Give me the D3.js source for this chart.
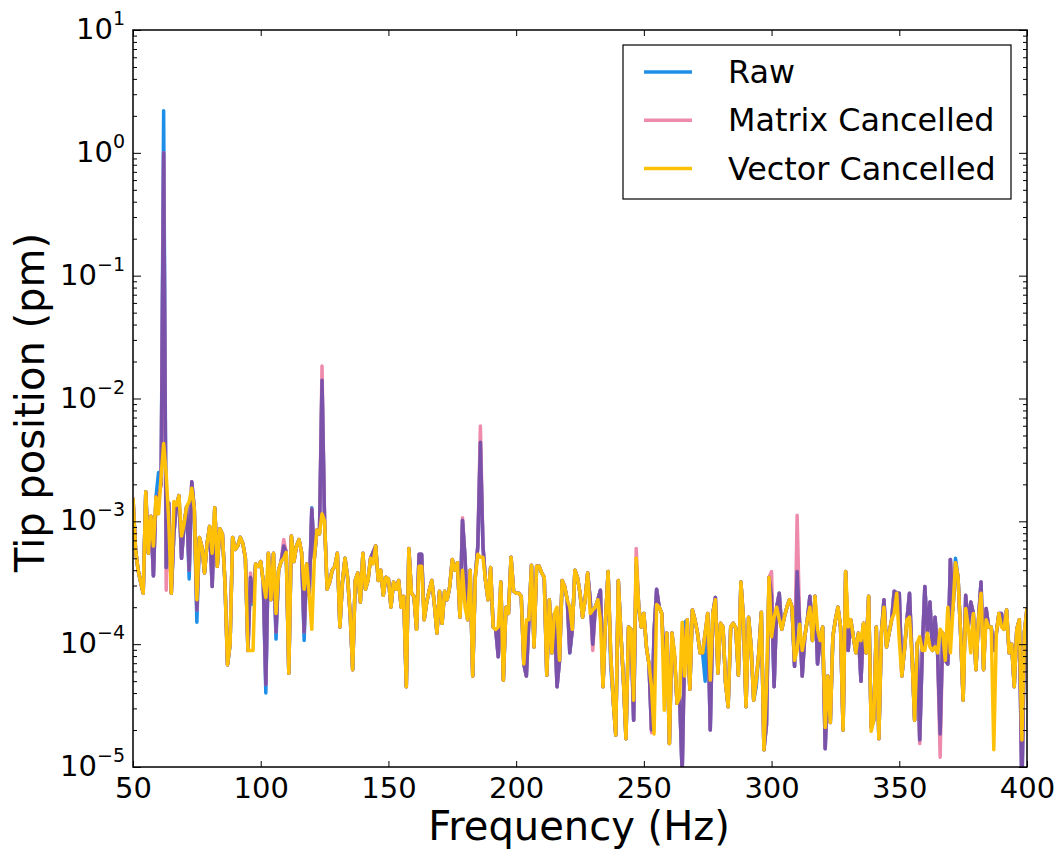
<!DOCTYPE html>
<html><head><meta charset="utf-8">
<script src="https://cdn.jsdelivr.net/npm/d3@7"></script>
<style>
body{margin:0;background:#fff}
svg{display:block;font-family:"DejaVu Sans",sans-serif}
</style>
</head><body>
<svg id="chart" width="1060" height="851"></svg>
<script>
// Frequency axis: one sample per Hz from 50 Hz to 400 Hz
const startHz = 50;
const stepHz = 1;

// Vector Cancelled (pm), 50..400 Hz
const vectorCancelled = [
1.55e-3,5.9e-4,4.0e-4,3.2e-4,2.6e-4,1.74e-3,5.5e-4,1.1e-3,6.3e-4,1.58e-3,
1.15e-3,2.29e-3,4.3e-3,2.4e-3,1.0e-3,2.6e-4,1.45e-3,1.35e-3,1.62e-3,7.6e-4,
9.5e-4,1.32e-3,1.45e-3,1.86e-3,1.26e-3,2.3e-4,7.4e-4,6.2e-4,3.8e-4,6.6e-4,
9.1e-4,5.5e-4,1.29e-3,4.3e-4,8.7e-4,7.9e-4,3.2e-4,6.8e-5,1.0e-4,7.4e-4,
5.9e-4,6.3e-4,7.4e-4,6.6e-4,5.0e-4,8.9e-5,8.9e-5,8.9e-5,4.5e-4,4.3e-4,
4.7e-4,3.2e-4,2.4e-4,5.5e-4,2.3e-4,5.5e-4,1.78e-4,4.0e-4,4.7e-4,5.0e-4,
5.6e-4,5.8e-5,7.6e-4,4.7e-4,6.3e-4,7.1e-4,5.6e-4,2.8e-4,4.5e-4,2.5e-4,
1.32e-4,5.0e-4,8.5e-4,7.9e-4,1.15e-3,1.0e-3,2.8e-4,3.2e-4,4.0e-4,4.3e-4,
5.5e-4,1.38e-4,3.2e-4,5.0e-4,3.5e-4,1.78e-4,6.2e-5,3.3e-4,3.8e-4,2.2e-4,
5.5e-4,2.8e-4,3.3e-4,5.0e-4,4.5e-4,6.3e-4,3.3e-4,4.0e-4,2.5e-4,3.5e-4,
3.4e-4,2.0e-4,3.2e-4,2.8e-4,3.3e-4,2.0e-4,2.45e-4,4.5e-5,6.0e-4,2.6e-4,
2.45e-4,1.32e-4,4.3e-4,4.3e-4,1.58e-4,2.2e-4,2.75e-4,3.3e-4,2.1e-4,1.23e-4,
2.7e-4,1.48e-4,2.7e-4,2.3e-4,2.95e-4,4.9e-4,4.0e-4,4.6e-4,1.66e-4,4.0e-4,
2.0e-4,1.58e-4,4.0e-4,5.5e-5,3.5e-4,5.4e-4,5.1e-4,5.1e-4,3.3e-4,2.3e-4,
4.2e-4,1.38e-4,1.32e-4,1.38e-4,3.2e-4,5.1e-5,2.0e-4,1.78e-4,5.1e-4,2.7e-4,
2.6e-4,2.6e-4,2.45e-4,6.9e-5,1.58e-4,1.58e-4,4.4e-4,9.5e-5,4.3e-4,4.3e-4,
3.8e-4,3.5e-4,5.6e-5,2.3e-4,8.5e-5,1.78e-4,2.0e-4,7.4e-5,3.3e-4,2.95e-4,
2.3e-4,2.0e-4,1.32e-4,4.0e-4,3.5e-4,2.6e-4,1.66e-4,2.3e-4,3.8e-4,1.78e-4,
1.9e-4,2.0e-4,2.3e-4,1.58e-4,4.5e-5,1.58e-4,3.9e-4,8.5e-5,3.5e-5,1.82e-5,
3.3e-4,1.23e-4,5.1e-5,1.7e-5,1.38e-4,1.32e-4,3.5e-5,5.0e-4,2.0e-4,1.38e-4,
1.78e-4,9.5e-5,6.9e-5,4.5e-5,1.86e-5,2.1e-4,2.0e-4,1.78e-4,2.9e-5,1.23e-4,
1.55e-5,1.23e-4,8.5e-5,3.3e-5,3.7e-5,1.51e-4,5.5e-5,1.58e-4,4.3e-5,1.9e-4,
1.58e-4,1.23e-4,8.5e-5,8.5e-5,1.23e-4,1.78e-4,5.1e-5,1.78e-4,2.3e-4,5.8e-5,
1.48e-4,1.38e-4,4.8e-5,3.1e-5,1.38e-4,1.48e-4,1.35e-4,5.6e-5,3.2e-4,1.58e-4,
3.1e-5,1.66e-4,9.5e-5,3.5e-5,5.1e-5,8.5e-5,1.82e-4,1.38e-5,4.5e-5,3.5e-4,
1.15e-4,1.66e-4,2.0e-4,1.58e-4,1.32e-4,1.66e-4,2.0e-4,2.3e-4,2.0e-4,7.4e-5,
8.9e-5,1.45e-4,8.9e-5,1.15e-4,1.58e-4,2.0e-4,1.07e-4,2.45e-4,1.32e-4,1.07e-4,
1.38e-4,2.1e-5,5.5e-5,2.3e-5,1.15e-4,1.58e-4,2.0e-4,1.38e-4,2.0e-5,3.9e-4,
1.38e-4,1.58e-4,1.15e-4,8.5e-5,1.23e-4,1.07e-4,1.48e-4,8.5e-5,2.45e-4,1.95e-5,
2.4e-5,1.38e-4,1.7e-5,1.23e-4,2.0e-4,9.5e-5,1.23e-4,1.58e-4,1.78e-4,2.6e-4,
1.07e-4,5.5e-5,8.9e-5,1.58e-4,1.66e-4,7.9e-5,2.4e-5,1.02e-4,1.15e-4,8.9e-5,
8.9e-5,1.23e-4,9.5e-5,8.9e-5,9.5e-5,8.5e-5,1.32e-4,1.23e-4,7.4e-5,2.0e-4,
8.5e-5,1.9e-4,4.6e-4,3.5e-4,1.23e-4,3.5e-5,1.95e-4,1.38e-4,8.5e-5,1.78e-4,
6.2e-5,1.58e-4,2.6e-4,6.2e-5,1.58e-4,1.38e-4,1.38e-4,1.38e-5,1.23e-4,1.78e-4,
1.38e-4,1.32e-4,1.9e-4,8.5e-5,1.0e-4,4.5e-5,1.32e-4,1.58e-4,1.66e-5,1.26e-4,
1.95e-4
];

// Trace where Raw and Matrix Cancelled coincide (drawn purple), 50..400 Hz
const rawMatrixShared = [
1.55e-3,5.9e-4,4.0e-4,3.2e-4,2.6e-4,1.74e-3,5.5e-4,1.1e-3,3.6e-4,1.58e-3,
1.58e-3,2.0e-3,1.0,4.2e-4,1.41e-3,2.6e-4,7.9e-4,1.35e-3,1.62e-3,5.0e-4,
9.5e-4,1.32e-3,4.0e-4,2.1e-3,1.26e-3,1.9e-4,7.4e-4,6.2e-4,3.8e-4,6.6e-4,
9.1e-4,2.95e-4,1.29e-3,4.3e-4,8.7e-4,7.9e-4,3.2e-4,6.8e-5,1.0e-4,7.4e-4,
5.9e-4,6.3e-4,7.4e-4,6.6e-4,5.0e-4,8.9e-5,3.5e-4,2.2e-4,4.5e-4,4.3e-4,
4.7e-4,3.2e-4,4.7e-5,5.5e-4,2.3e-4,5.5e-4,1.26e-4,4.0e-4,4.7e-4,6.3e-4,
5.6e-4,5.8e-5,7.6e-4,4.7e-4,6.3e-4,7.1e-4,5.6e-4,1.26e-4,4.5e-4,2.5e-4,
1.26e-3,5.0e-4,8.5e-4,7.9e-4,1.41e-2,1.0e-3,2.8e-4,3.2e-4,4.0e-4,4.3e-4,
5.5e-4,1.38e-4,3.2e-4,5.0e-4,3.5e-4,1.78e-4,6.2e-5,3.3e-4,3.8e-4,2.2e-4,
5.5e-4,2.8e-4,3.3e-4,5.0e-4,5.6e-4,6.3e-4,3.3e-4,4.0e-4,2.5e-4,3.5e-4,
3.4e-4,2.0e-4,3.2e-4,2.8e-4,3.3e-4,2.0e-4,2.45e-4,4.5e-5,6.0e-4,2.6e-4,
2.45e-4,1.32e-4,5.4e-4,5.4e-4,1.58e-4,2.2e-4,2.75e-4,3.3e-4,2.1e-4,1.23e-4,
2.7e-4,1.48e-4,2.7e-4,2.3e-4,2.95e-4,4.9e-4,4.0e-4,4.6e-4,1.66e-4,1.02e-3,
5.0e-4,1.58e-4,4.0e-4,5.5e-5,3.5e-4,6.3e-4,4.4e-3,6.3e-4,3.3e-4,2.3e-4,
4.2e-4,1.38e-4,1.32e-4,7.9e-5,3.2e-4,5.1e-5,2.0e-4,1.78e-4,5.1e-4,2.7e-4,
2.6e-4,2.6e-4,2.45e-4,6.9e-5,5.5e-5,1.58e-4,4.4e-4,9.5e-5,4.3e-4,4.3e-4,
3.8e-4,3.5e-4,5.6e-5,2.3e-4,8.5e-5,1.78e-4,4.5e-5,7.4e-5,3.3e-4,2.95e-4,
2.3e-4,8.5e-5,1.32e-4,4.0e-4,3.5e-4,2.6e-4,1.66e-4,2.3e-4,3.8e-4,2.3e-4,
1.0e-4,2.0e-4,2.3e-4,2.75e-4,4.5e-5,1.58e-4,3.9e-4,8.5e-5,3.5e-5,1.82e-5,
3.3e-4,1.23e-4,5.1e-5,1.7e-5,1.38e-4,1.32e-4,2.4e-5,4.5e-4,2.0e-4,1.38e-4,
1.78e-4,9.5e-5,6.9e-5,2.0e-5,1.26e-4,2.8e-4,2.0e-4,1.78e-4,6.3e-5,1.23e-4,
1.55e-5,1.23e-4,7.9e-5,3.3e-5,3.7e-5,8.9e-6,1.0e-4,1.58e-4,4.3e-5,1.9e-4,
1.58e-4,1.23e-4,8.5e-5,8.5e-5,1.23e-4,1.78e-4,2.0e-5,1.78e-4,2.4e-4,5.8e-5,
1.48e-4,1.38e-4,4.8e-5,3.1e-5,1.38e-4,1.48e-4,1.35e-4,5.6e-5,3.2e-4,1.58e-4,
3.1e-5,1.66e-4,9.5e-5,3.5e-5,5.1e-5,8.5e-5,1.82e-4,1.38e-5,2.2e-5,3.5e-4,
2.5e-4,4.5e-5,2.0e-4,2.6e-4,1.32e-4,1.66e-4,2.0e-4,2.3e-4,2.0e-4,6.6e-5,
3.9e-4,1.45e-4,5.5e-5,1.15e-4,1.58e-4,2.45e-4,1.07e-4,2.45e-4,6.9e-5,1.07e-4,
1.38e-4,1.41e-5,5.5e-5,2.3e-5,1.15e-4,1.58e-4,2.0e-4,1.38e-4,2.0e-5,3.9e-4,
8.9e-5,1.58e-4,1.15e-4,8.5e-5,1.23e-4,5.0e-5,1.48e-4,8.5e-5,2.45e-4,2.1e-5,
2.4e-5,1.38e-4,1.7e-5,1.23e-4,2.3e-4,9.5e-5,1.23e-4,1.58e-4,2.7e-4,2.6e-4,
2.6e-4,5.5e-5,8.9e-5,1.58e-4,2.6e-4,7.9e-5,2.4e-5,1.02e-4,1.66e-5,8.9e-5,
2.95e-4,1.23e-4,2.2e-4,8.9e-5,1.66e-4,8.5e-5,1.86e-5,1.23e-4,7.4e-5,6.9e-5,
4.9e-4,1.9e-4,4.6e-4,3.5e-4,1.23e-4,3.5e-5,2.5e-4,1.38e-4,2.2e-4,1.78e-4,
6.2e-5,1.58e-4,3.2e-4,6.2e-5,1.95e-4,1.38e-4,1.38e-4,8.9e-5,1.23e-4,1.78e-4,
1.78e-4,1.32e-4,1.9e-4,8.5e-5,1.0e-4,4.5e-5,1.32e-4,1.58e-4,6.3e-6,1.26e-4,
1.95e-4
];

// Points where Raw departs from the shared trace: [Hz, pm]
const rawOnly = [[60,2.5e-3],[62,2.2],[72,3.4e-4],[75,1.51e-4],[97,2.1e-4],[102,4.0e-5],
  [106,1.1e-4],[117,1.07e-4],[120,1.29e-3],[237,6.8e-5],[266,1.51e-4],[274,5.0e-5],
  [294,4.5e-5],[372,5.0e-4]];
// Points where Matrix Cancelled departs from the shared trace: [Hz, pm]
const matrixOnly = [[63,2.75e-4],[96,3.8e-4],[109,7.1e-4],[124,1.84e-2],[179,1.07e-3],
  [186,5.97e-3],[221,8.9e-5],[230,8.9e-5],[247,6.0e-4],[253,1.9e-5],[300,3.9e-4],
  [310,1.12e-3],[358,1.55e-5],[366,1.2e-5]];

const xTicks = [50,100,150,200,250,300,350,400];
const yExponents = [-5,-4,-3,-2,-1,0,1];
const legendLabels = ["Raw","Matrix Cancelled","Vector Cancelled"];
const legendColors = ["#1e8fe8","#ee8aab","#ffc107"];
const sharedColor = "#7b52aa";

// ---------------------------------------------------------------
const svg = d3.select("#chart");
const M = {left:133, right:1027, top:30, bottom:767};
const x = d3.scaleLinear().domain([50,400]).range([M.left,M.right]);
const y = d3.scaleLog().domain([1e-5,1e1]).range([M.bottom,M.top]);

const freqs = vectorCancelled.map((_,i)=>startHz+i*stepHz);
function withOverrides(base, over){
  const m = new Map(over.map(d=>[d[0],d[1]]));
  return base.map((v,i)=> m.has(freqs[i]) ? m.get(freqs[i]) : v);
}
const raw = withOverrides(rawMatrixShared, rawOnly);
const matrix = withOverrides(rawMatrixShared, matrixOnly);

svg.append("defs").append("clipPath").attr("id","clip")
  .append("rect").attr("x",M.left).attr("y",M.top)
  .attr("width",M.right-M.left).attr("height",M.bottom-M.top);

const line = d3.line().x((d,i)=>x(freqs[i])).y(d=>y(d));
const g = svg.append("g").attr("clip-path","url(#clip)");
const layers = [[raw,legendColors[0]],[matrix,legendColors[1]],[rawMatrixShared,sharedColor],[vectorCancelled,legendColors[2]]];
layers.forEach(([data,col])=>{
  g.append("path").datum(data).attr("d",line).attr("fill","none")
   .attr("stroke",col).attr("stroke-width",3.5).attr("stroke-linejoin","round");
});

// axes (ticks inward on all four sides)
const minorVals = [];
yExponents.slice(0,-1).forEach(e=>{ for(let k=2;k<=9;k++) minorVals.push(k*Math.pow(10,e)); });
const majorVals = yExponents.map(e=>Math.pow(10,e));

function styleAxis(sel){ sel.select(".domain").remove(); sel.selectAll("line").attr("stroke","#000").attr("stroke-width",1); }

svg.append("g").attr("transform",`translate(0,${M.bottom})`)
  .call(d3.axisBottom(x).tickValues(xTicks).tickSize(-6).tickPadding(10).tickFormat(d3.format("d")))
  .call(styleAxis)
  .selectAll("text").attr("font-size",29).attr("fill","#000").attr("font-family","DejaVu Sans, sans-serif");
svg.append("g").attr("transform",`translate(0,${M.top})`)
  .call(d3.axisTop(x).tickValues(xTicks).tickSize(-6).tickFormat(""))
  .call(styleAxis);
svg.append("g").attr("transform",`translate(${M.left},0)`)
  .call(d3.axisLeft(y).tickValues(majorVals).tickSize(-8).tickFormat(""))
  .call(styleAxis);
svg.append("g").attr("transform",`translate(${M.left},0)`)
  .call(d3.axisLeft(y).tickValues(minorVals).tickSize(-4).tickFormat(""))
  .call(styleAxis);
svg.append("g").attr("transform",`translate(${M.right},0)`)
  .call(d3.axisRight(y).tickValues(majorVals).tickSize(-8).tickFormat(""))
  .call(styleAxis);
svg.append("g").attr("transform",`translate(${M.right},0)`)
  .call(d3.axisRight(y).tickValues(minorVals).tickSize(-4).tickFormat(""))
  .call(styleAxis);

// y tick labels 10^n
yExponents.forEach(e=>{
  const t = svg.append("text").attr("x",125).attr("y",y(Math.pow(10,e))+9)
    .attr("text-anchor","end").attr("font-size",29).attr("fill","#000");
  t.append("tspan").text("10");
  t.append("tspan").attr("font-size",19).attr("dy",-14).text(e<0?"\u2212"+(-e):String(e));
});

// frame
svg.append("rect").attr("x",M.left).attr("y",M.top)
  .attr("width",M.right-M.left).attr("height",M.bottom-M.top)
  .attr("fill","none").attr("stroke","#000").attr("stroke-width",1.5);

// axis titles
svg.append("text").attr("x",(M.left+M.right)/2 - 1).attr("y",840).attr("text-anchor","middle")
  .attr("font-size",40).attr("fill","#000").text("Frequency (Hz)");
svg.append("text").attr("transform",`translate(44,${(M.top+M.bottom)/2 + 4}) rotate(-90)`)
  .attr("text-anchor","middle").attr("font-size",40).attr("fill","#000").text("Tip position (pm)");

// legend
const lg = svg.append("g");
lg.append("rect").attr("x",623).attr("y",45).attr("width",388).attr("height",154)
  .attr("fill","#fff").attr("stroke","#000").attr("stroke-width",1.2);
legendLabels.forEach((lab,i)=>{
  const yy = 72 + i*48.3;
  lg.append("line").attr("x1",644).attr("x2",692).attr("y1",yy).attr("y2",yy)
    .attr("stroke",legendColors[i]).attr("stroke-width",3.5);
  lg.append("text").attr("x",728).attr("y",yy+11).attr("font-size",31.8).attr("fill","#000").text(lab);
});
</script>
</body></html>
